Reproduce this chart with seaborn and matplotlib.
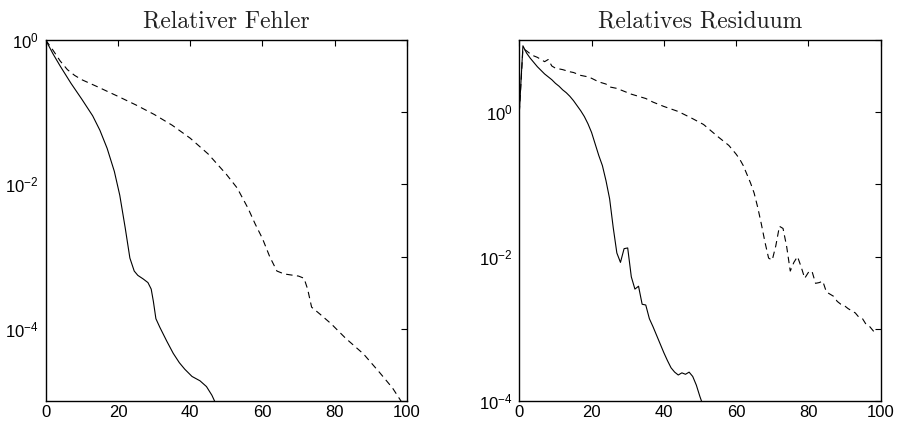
import numpy as np
import pandas as pd
import seaborn as sns
import matplotlib
matplotlib.use("Agg")
import matplotlib.pyplot as plt
from matplotlib.ticker import FixedLocator, FixedFormatter, NullLocator

# ---------------- data (log10 of values) ----------------
# Left panel: relative error
fehler_solid_it = [0, 2, 4, 7, 10, 13, 15, 17, 19, 20.5, 22, 23.3, 24.5, 25.5, 27, 28.3,
                   29.2, 29.8, 30.5, 31.6, 33.5, 35.3, 37, 38.5, 40.5, 42.7, 44.5, 46, 47.2]
fehler_solid_log = [0, -0.19, -0.36, -0.60, -0.82, -1.05, -1.25, -1.50, -1.82, -2.15, -2.60,
                    -3.02, -3.20, -3.26, -3.31, -3.36, -3.45, -3.62, -3.86, -3.98, -4.17,
                    -4.34, -4.47, -4.56, -4.66, -4.72, -4.80, -4.92, -5.05]

fehler_dash_it = [0, 2, 4, 6, 8, 10, 14, 20, 25, 30, 35, 40, 45, 50, 53, 56, 58, 60, 62,
                  64, 66, 70, 71.5, 72.5, 73.6, 76, 79, 83, 88, 92.5, 96, 98.6]
fehler_dash_log = [0, -0.14, -0.29, -0.41, -0.49, -0.55, -0.64, -0.78, -0.90, -1.03, -1.18,
                   -1.36, -1.58, -1.86, -2.05, -2.33, -2.55, -2.75, -3.00, -3.20, -3.24,
                   -3.27, -3.30, -3.45, -3.70, -3.80, -3.93, -4.13, -4.35, -4.61, -4.82, -5.02]

# Right panel: relative residual
resid_solid_it = list(range(0, 51)) + [50.5]
resid_solid_log = [0, 0.92, 0.82, 0.75, 0.69, 0.63, 0.58, 0.53, 0.49, 0.45, 0.40, 0.36, 0.31,
                   0.27, 0.22, 0.16, 0.09, 0.02, -0.06, -0.16, -0.28, -0.44, -0.60, -0.74,
                   -0.95, -1.20, -1.60, -1.95, -2.08, -1.89, -1.88, -2.28, -2.45, -2.41,
                   -2.66, -2.67, -2.86, -2.97, -3.09, -3.21, -3.33, -3.44, -3.54, -3.60,
                   -3.64, -3.61, -3.63, -3.60, -3.66, -3.78, -3.94, -4.01]

resid_dash_it = [0, 1, 2, 3, 4, 5, 6, 7, 8, 9, 10, 12, 14, 15, 17, 19, 20, 22, 24, 25, 27,
                 29, 31, 33, 35, 37, 40, 44, 48, 51, 55, 58, 60, 61, 62, 63, 64, 65, 66, 67,
                 68, 69, 70, 71, 72, 73, 74, 75, 76, 77, 78, 79, 80, 81, 82, 83, 84, 85, 86,
                 87, 88, 89, 90, 91, 92, 93, 94, 95, 96, 97, 98, 98.5]
resid_dash_log = [0, 0.88, 0.85, 0.81, 0.78, 0.76, 0.73, 0.70, 0.73, 0.64, 0.61, 0.59, 0.56,
                  0.55, 0.51, 0.49, 0.47, 0.42, 0.39, 0.35, 0.33, 0.29, 0.25, 0.22, 0.19,
                  0.14, 0.08, 0.01, -0.09, -0.17, -0.34, -0.46, -0.58, -0.65, -0.74, -0.86,
                  -0.98, -1.12, -1.32, -1.55, -1.80, -2.02, -2.05, -1.85, -1.58, -1.61,
                  -1.86, -2.20, -2.08, -2.00, -2.14, -2.30, -2.22, -2.20, -2.37, -2.36,
                  -2.34, -2.49, -2.52, -2.55, -2.62, -2.66, -2.68, -2.72, -2.75, -2.78,
                  -2.84, -2.86, -2.94, -2.97, -3.03, -3.06]

titles = ["Relativer Fehler", "Relatives Residuum"]
xticks = [0, 20, 40, 60, 80, 100]

# ---------------- style ----------------
sns.set_style("white")
plt.rcParams.update({
    "font.family": ["Liberation Sans", "DejaVu Sans"],
    "mathtext.fontset": "custom",
    "mathtext.rm": "Liberation Sans",
    "mathtext.it": "Liberation Sans:italic",
    "mathtext.bf": "Liberation Sans:bold",
    "xtick.direction": "in",
    "ytick.direction": "in",
    "xtick.top": True,
    "ytick.right": True,
    "axes.edgecolor": "black",
    "axes.linewidth": 1.0,
})

fig = plt.figure(figsize=(8.98, 4.23), dpi=100)
axL = fig.add_axes([0.0509, 0.052, 0.4023, 0.8534])
axR = fig.add_axes([0.5783, 0.052, 0.4023, 0.8534])

dash = (0, (5.8, 4.0))


def draw(ax, it, logv, ls):
    df = pd.DataFrame({"it": it, "val": 10.0 ** np.asarray(logv)})
    sns.lineplot(data=df, x="it", y="val", ax=ax, color="black", linewidth=0.8,
                 linestyle=ls, estimator=None, sort=False)


draw(axL, fehler_solid_it, fehler_solid_log, "-")
draw(axL, fehler_dash_it, fehler_dash_log, dash)
draw(axR, resid_solid_it, resid_solid_log, "-")
draw(axR, resid_dash_it, resid_dash_log, dash)

ylims = [(1e-5, 1.0), (1e-4, 10.0)]
for ax, title, (lo, hi) in zip([axL, axR], titles, ylims):
    ax.set_yscale("log")
    ax.set_xlim(0, 100)
    ax.set_ylim(lo, hi)
    ax.set_xlabel("")
    ax.set_ylabel("")
    ax.set_xticks(xticks)
    ax.set_xticklabels([str(t) for t in xticks])
    exps = list(range(int(round(np.log10(lo))), int(round(np.log10(hi))) + 1))
    ax.yaxis.set_major_locator(FixedLocator([10.0 ** e for e in exps]))
    ax.yaxis.set_major_formatter(FixedFormatter(
        [("$10^{%d}$" % e) if e % 2 == 0 else "" for e in exps]))
    ax.yaxis.set_minor_locator(NullLocator())
    ax.tick_params(axis="both", which="major", labelsize=12, length=4, width=0.8,
                   colors="black")
    ax.tick_params(axis="y", pad=5)
    ax.tick_params(axis="x", pad=3)
    for s in ax.spines.values():
        s.set_visible(True)
        s.set_color("black")
        s.set_linewidth(1.0)
    ax.set_title(title, family="cmr10", fontsize=17, color="#222222", pad=9)

fig.savefig("out.png", dpi=100)
